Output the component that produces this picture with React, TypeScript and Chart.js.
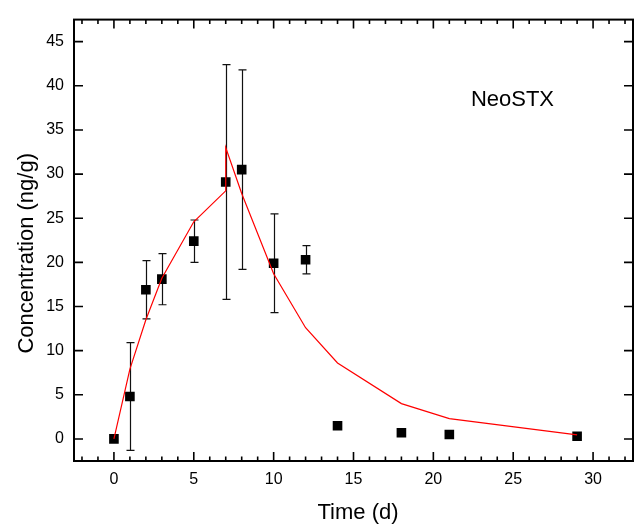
import React, { useEffect, useRef } from "react";
import { Chart, registerables } from "chart.js";

Chart.register(...registerables);

// ---- data ----
const timeObs = [0, 1, 2, 3, 5, 7, 8, 10, 12, 14, 18, 21, 29];
const concObs = [0, 4.8, 16.9, 18.1, 22.4, 29.1, 30.5, 19.9, 20.3, 1.5, 0.7, 0.5, 0.3];
const concSD = [0, 6.1, 3.3, 2.9, 2.4, 13.3, 11.3, 5.6, 1.6, 0, 0, 0, 0];

const timeModel = [0, 1, 2, 3, 5, 7, 7, 8, 10, 12, 14, 18, 21, 29];
const concModel = [0, 7.9, 13.5, 18.2, 24.6, 28.1, 33.0, 27.8, 18.7, 12.6, 8.6, 4.0, 2.3, 0.45];

const xTickValues = [0, 5, 10, 15, 20, 25, 30];
const yTickValues = [0, 5, 10, 15, 20, 25, 30, 35, 40, 45];
const xRange = [-2.5, 32.5];
const yRange = [-2.5, 47.5];
const xMinorStep = 1;

const xTitle = "Time (d)";
const yTitle = "Concentration (ng/g)";
const seriesLabel = "NeoSTX";
const labelPos = [22.35, 37.7];

const FONT = "'Liberation Sans', Arial, Helvetica, sans-serif";

const errorBarPlugin = {
  id: "errorBars",
  beforeDatasetsDraw(chart: any) {
    const { ctx } = chart;
    const xs = chart.scales.x;
    const ys = chart.scales.y;
    ctx.save();
    ctx.strokeStyle = "#111";
    ctx.lineWidth = 1.2;
    const cap = 4;
    timeObs.forEach((t, i) => {
      const sd = concSD[i];
      if (!sd) return;
      const px = Math.round(xs.getPixelForValue(t)) + 0.5;
      const yTop = ys.getPixelForValue(concObs[i] + sd);
      const yBot = ys.getPixelForValue(concObs[i] - sd);
      ctx.beginPath();
      ctx.moveTo(px, yTop);
      ctx.lineTo(px, yBot);
      ctx.moveTo(px - cap, yTop);
      ctx.lineTo(px + cap, yTop);
      ctx.moveTo(px - cap, yBot);
      ctx.lineTo(px + cap, yBot);
      ctx.stroke();
    });
    ctx.restore();
  },
};

const framePlugin = {
  id: "frameTicks",
  afterDraw(chart: any) {
    const { ctx, chartArea } = chart;
    const { left, right, top, bottom } = chartArea;
    const xs = chart.scales.x;
    const ys = chart.scales.y;
    ctx.save();
    ctx.strokeStyle = "#000";
    ctx.lineWidth = 2;
    ctx.strokeRect(left, top, right - left, bottom - top);

    const major = 9;
    const minor = 4.5;
    ctx.lineWidth = 1.6;
    ctx.beginPath();
    const start = Math.ceil(xRange[0] / xMinorStep) * xMinorStep;
    for (let v = start; v <= xRange[1]; v += xMinorStep) {
      const isMajor = xTickValues.includes(v);
      const len = isMajor ? major : minor;
      const px = xs.getPixelForValue(v);
      ctx.moveTo(px, bottom);
      ctx.lineTo(px, bottom - len);
      ctx.moveTo(px, top);
      ctx.lineTo(px, top + len);
    }
    yTickValues.forEach((v) => {
      const py = ys.getPixelForValue(v);
      ctx.moveTo(left, py);
      ctx.lineTo(left + major, py);
      ctx.moveTo(right, py);
      ctx.lineTo(right - major, py);
    });
    ctx.stroke();

    ctx.fillStyle = "#000";
    ctx.font = `22px ${FONT}`;
    // series label
    ctx.textAlign = "left";
    ctx.textBaseline = "alphabetic";
    ctx.fillText(seriesLabel, xs.getPixelForValue(labelPos[0]), ys.getPixelForValue(labelPos[1]));
    // x title
    ctx.textAlign = "center";
    ctx.fillText(xTitle, (left + right) / 2 + 4.5, 519);
    // y title
    ctx.save();
    ctx.translate(33, (top + bottom) / 2 + 13);
    ctx.rotate(-Math.PI / 2);
    ctx.fillText(yTitle, 0, 0);
    ctx.restore();
    ctx.restore();
  },
};

export default function App() {
  const canvasRef = useRef<HTMLCanvasElement | null>(null);

  useEffect(() => {
    const canvas = canvasRef.current;
    if (!canvas) return;
    const chart = new Chart(canvas, {
      type: "scatter",
      data: {
        datasets: [
          {
            label: "model",
            data: timeModel.map((t, i) => ({ x: t, y: concModel[i] })),
            showLine: true,
            borderColor: "#ff0000",
            borderWidth: 1.2,
            pointRadius: 0,
            fill: false,
            tension: 0,
          },
          {
            label: seriesLabel,
            data: timeObs.map((t, i) => ({ x: t, y: concObs[i] })),
            showLine: false,
            pointStyle: "rect",
            pointRadius: 6.8,
            backgroundColor: "#000",
            borderColor: "#000",
            borderWidth: 0,
          },
        ],
      },
      options: {
        animation: false,
        responsive: false,
        devicePixelRatio: 1,
        layout: { padding: { top: 11, right: 7, left: 0, bottom: 0 } },
        plugins: {
          legend: { display: false },
          tooltip: { enabled: false },
        },
        scales: {
          x: {
            type: "linear",
            min: xRange[0],
            max: xRange[1],
            afterBuildTicks: (s: any) => {
              s.ticks = xTickValues.map((v) => ({ value: v }));
            },
            afterFit: (s: any) => {
              s.height = 65;
            },
            grid: { display: false, drawTicks: false },
            border: { display: false },
            ticks: {
              font: { size: 16, family: FONT },
              color: "#000",
              padding: 8.6,
              maxRotation: 0,
              autoSkip: false,
            },
            title: { display: false, text: xTitle },
          },
          y: {
            type: "linear",
            min: yRange[0],
            max: yRange[1],
            afterBuildTicks: (s: any) => {
              s.ticks = yTickValues.map((v) => ({ value: v }));
            },
            afterFit: (s: any) => {
              s.width = 74;
            },
            grid: { display: false, drawTicks: false },
            border: { display: false },
            ticks: {
              font: { size: 16, family: FONT },
              color: "#000",
              padding: 10,
              autoSkip: false,
            },
            title: { display: false, text: yTitle },
          },
        },
      } as any,
      plugins: [errorBarPlugin, framePlugin],
    });
    return () => chart.destroy();
  }, []);

  return (
    <div style={{ position: "absolute", left: 0, top: 0, width: 640, height: 526, background: "#fff" }}>
      <canvas ref={canvasRef} width={640} height={526} style={{ width: 640, height: 526 }} />
    </div>
  );
}
